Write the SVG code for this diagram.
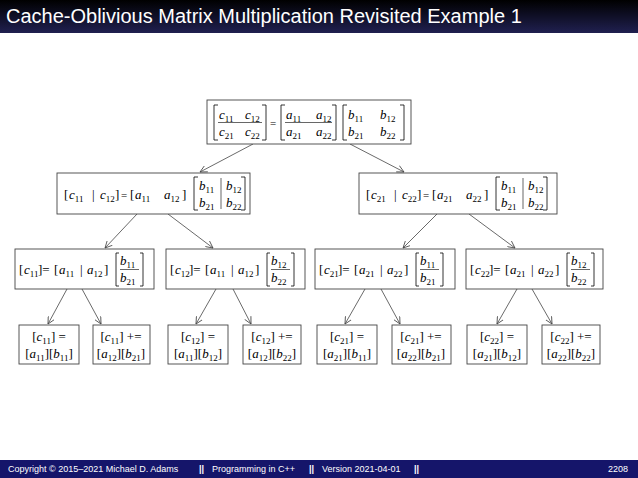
<svg xmlns="http://www.w3.org/2000/svg" width="638" height="478" viewBox="0 0 638 478">
<style>
text{font-family:"Liberation Serif","DejaVu Serif",serif;font-size:13px;fill:#000}
.i{font-style:italic}
.s{font-size:9px;font-style:normal}
.b{fill:none;stroke:#000;stroke-width:0.8}
.box{fill:#fff;stroke:#444;stroke-width:0.9}
.c line{stroke:#444;stroke-width:0.8;marker-end:url(#ah)}
.ft{font-family:"Liberation Sans",Arial,sans-serif;font-size:9px;fill:#fff}
</style>
<defs>
<marker id="ah" markerWidth="8" markerHeight="8" refX="7" refY="4" orient="auto" markerUnits="userSpaceOnUse"><path d="M0,0.5 L7,4 L0,7.5" fill="none" stroke="#444" stroke-width="0.8"/></marker>
<linearGradient id="tg" x1="0" y1="0" x2="0" y2="1"><stop offset="0" stop-color="#000"/><stop offset="1" stop-color="#202050"/></linearGradient>
</defs>
<rect width="638" height="478" fill="#fff"/>
<rect width="638" height="33" fill="url(#tg)"/>
<text x="6" y="23" style="font-family:'Liberation Sans',Arial,sans-serif;font-size:20px;fill:#fff">Cache-Oblivious Matrix Multiplication Revisited Example 1</text>
<rect y="460" width="638" height="18" fill="#15156a"/>
<text class="ft" x="8" y="472">Copyright © 2015–2021 Michael D. Adams</text>
<text class="ft" x="199" y="472" style="font-weight:bold">||</text>
<text class="ft" x="212" y="472">Programming in C++</text>
<text class="ft" x="309" y="472" style="font-weight:bold">||</text>
<text class="ft" x="322" y="472">Version 2021-04-01</text>
<text class="ft" x="414" y="472" style="font-weight:bold">||</text>
<text class="ft" x="608" y="472">2208</text>

<g class="c">
<line x1="253" y1="144" x2="200" y2="172"/>
<line x1="350" y1="144" x2="404" y2="172"/>
<line x1="137" y1="214" x2="105" y2="248"/>
<line x1="168" y1="214" x2="213" y2="248"/>
<line x1="437" y1="214" x2="403" y2="248"/>
<line x1="469" y1="214" x2="515" y2="248"/>
<line x1="67" y1="289" x2="48" y2="324"/>
<line x1="82" y1="289" x2="101" y2="324"/>
<line x1="216" y1="289" x2="196" y2="324"/>
<line x1="233" y1="289" x2="251" y2="324"/>
<line x1="365" y1="289" x2="345" y2="324"/>
<line x1="381" y1="289" x2="400" y2="324"/>
<line x1="517" y1="289" x2="497" y2="324"/>
<line x1="532" y1="289" x2="552" y2="324"/>
</g>

<g id="root">
<rect class="box" x="207" y="100" width="204" height="44"/>
<path class="b" d="M218,105h-4v35h4M262,105h4v35h-4M285,105h-4v35h4M332,105h4v35h-4M347,105h-4v35h4M400,105h4v35h-4"/>
<line x1="218" y1="122.5" x2="262" y2="122.5" stroke="#000" stroke-width="0.6"/>
<line x1="285" y1="122.5" x2="332" y2="122.5" stroke="#000" stroke-width="0.6"/>
<text class="i" x="219" y="119">c<tspan class="s" dy="3">11</tspan></text>
<text class="i" x="245" y="119">c<tspan class="s" dy="3">12</tspan></text>
<text class="i" x="219" y="136">c<tspan class="s" dy="3">21</tspan></text>
<text class="i" x="245" y="136">c<tspan class="s" dy="3">22</tspan></text>
<text x="270" y="127" style="font-size:11px">=</text>
<text class="i" x="286" y="119">a<tspan class="s" dy="3">11</tspan></text>
<text class="i" x="316" y="119">a<tspan class="s" dy="3">12</tspan></text>
<text class="i" x="286" y="136">a<tspan class="s" dy="3">21</tspan></text>
<text class="i" x="316" y="136">a<tspan class="s" dy="3">22</tspan></text>
<text class="i" x="348" y="119">b<tspan class="s" dy="3">11</tspan></text>
<text class="i" x="380" y="119">b<tspan class="s" dy="3">12</tspan></text>
<text class="i" x="348" y="136">b<tspan class="s" dy="3">21</tspan></text>
<text class="i" x="380" y="136">b<tspan class="s" dy="3">22</tspan></text>
</g>

<g id="n2a">
<rect class="box" x="57" y="173" width="193" height="41"/>
<text x="64" y="199">[</text><text class="i" x="69" y="199">c<tspan class="s" dy="3">11</tspan></text><text x="92" y="199">|</text><text class="i" x="100" y="199">c<tspan class="s" dy="3">12</tspan></text><text x="115" y="199">]</text>
<text x="121" y="199" style="font-size:11px">=</text>
<text x="130" y="199">[</text><text class="i" x="135" y="199">a<tspan class="s" dy="3">11</tspan></text><text class="i" x="164" y="199">a<tspan class="s" dy="3">12</tspan></text><text x="182" y="199">]</text>
<path class="b" d="M198,177h-4v33h4M241,177h4v33h-4"/>
<line x1="221" y1="178" x2="221" y2="209" stroke="#000" stroke-width="0.6"/>
<text class="i" x="199" y="190">b<tspan class="s" dy="3">11</tspan></text><text class="i" x="226" y="190">b<tspan class="s" dy="3">12</tspan></text>
<text class="i" x="199" y="207">b<tspan class="s" dy="3">21</tspan></text><text class="i" x="226" y="207">b<tspan class="s" dy="3">22</tspan></text>
</g>

<g id="n2b">
<rect class="box" x="359" y="173" width="198" height="41"/>
<text x="366" y="199">[</text><text class="i" x="371" y="199">c<tspan class="s" dy="3">21</tspan></text><text x="394" y="199">|</text><text class="i" x="402" y="199">c<tspan class="s" dy="3">22</tspan></text><text x="417" y="199">]</text>
<text x="423" y="199" style="font-size:11px">=</text>
<text x="432" y="199">[</text><text class="i" x="437" y="199">a<tspan class="s" dy="3">21</tspan></text><text class="i" x="466" y="199">a<tspan class="s" dy="3">22</tspan></text><text x="484" y="199">]</text>
<path class="b" d="M500,177h-4v33h4M543,177h4v33h-4"/>
<line x1="523" y1="178" x2="523" y2="209" stroke="#000" stroke-width="0.6"/>
<text class="i" x="501" y="190">b<tspan class="s" dy="3">11</tspan></text><text class="i" x="528" y="190">b<tspan class="s" dy="3">12</tspan></text>
<text class="i" x="501" y="207">b<tspan class="s" dy="3">21</tspan></text><text class="i" x="528" y="207">b<tspan class="s" dy="3">22</tspan></text>
</g>

<g id="n3a">
<rect class="box" x="15" y="249" width="139" height="40"/>
<text x="19" y="274">[</text><text class="i" x="24" y="274">c<tspan class="s" dy="3">11</tspan></text><text x="38" y="274">]=</text>
<text x="54" y="274">[</text><text class="i" x="59" y="274">a<tspan class="s" dy="3">11</tspan></text><text x="80" y="274">|</text><text class="i" x="87" y="274">a<tspan class="s" dy="3">12</tspan></text><text x="104" y="274">]</text>
<path class="b" d="M119,253h-3v33h3M140,253h3v33h-3"/>
<line x1="120" y1="269.5" x2="139" y2="269.5" stroke="#000" stroke-width="0.6"/>
<text class="i" x="120" y="265">b<tspan class="s" dy="3">11</tspan></text><text class="i" x="120" y="282">b<tspan class="s" dy="3">21</tspan></text>
</g>
<g id="n3b">
<rect class="box" x="166" y="249" width="139" height="40"/>
<text x="170" y="274">[</text><text class="i" x="175" y="274">c<tspan class="s" dy="3">12</tspan></text><text x="189" y="274">]=</text>
<text x="205" y="274">[</text><text class="i" x="210" y="274">a<tspan class="s" dy="3">11</tspan></text><text x="231" y="274">|</text><text class="i" x="238" y="274">a<tspan class="s" dy="3">12</tspan></text><text x="255" y="274">]</text>
<path class="b" d="M270,253h-3v33h3M291,253h3v33h-3"/>
<line x1="271" y1="269.5" x2="290" y2="269.5" stroke="#000" stroke-width="0.6"/>
<text class="i" x="271" y="265">b<tspan class="s" dy="3">12</tspan></text><text class="i" x="271" y="282">b<tspan class="s" dy="3">22</tspan></text>
</g>
<g id="n3c">
<rect class="box" x="315" y="249" width="140" height="40"/>
<text x="319" y="274">[</text><text class="i" x="324" y="274">c<tspan class="s" dy="3">21</tspan></text><text x="338" y="274">]=</text>
<text x="354" y="274">[</text><text class="i" x="359" y="274">a<tspan class="s" dy="3">21</tspan></text><text x="380" y="274">|</text><text class="i" x="387" y="274">a<tspan class="s" dy="3">22</tspan></text><text x="404" y="274">]</text>
<path class="b" d="M419,253h-3v33h3M440,253h3v33h-3"/>
<line x1="420" y1="269.5" x2="439" y2="269.5" stroke="#000" stroke-width="0.6"/>
<text class="i" x="420" y="265">b<tspan class="s" dy="3">11</tspan></text><text class="i" x="420" y="282">b<tspan class="s" dy="3">21</tspan></text>
</g>
<g id="n3d">
<rect class="box" x="466" y="249" width="137" height="40"/>
<text x="470" y="274">[</text><text class="i" x="475" y="274">c<tspan class="s" dy="3">22</tspan></text><text x="489" y="274">]=</text>
<text x="505" y="274">[</text><text class="i" x="510" y="274">a<tspan class="s" dy="3">21</tspan></text><text x="531" y="274">|</text><text class="i" x="538" y="274">a<tspan class="s" dy="3">22</tspan></text><text x="555" y="274">]</text>
<path class="b" d="M570,253h-3v33h3M591,253h3v33h-3"/>
<line x1="571" y1="269.5" x2="590" y2="269.5" stroke="#000" stroke-width="0.6"/>
<text class="i" x="571" y="265">b<tspan class="s" dy="3">12</tspan></text><text class="i" x="571" y="282">b<tspan class="s" dy="3">22</tspan></text>
</g>

<g id="l1"><rect class="box" x="19" y="325" width="60" height="39"/>
<text x="49" y="341" text-anchor="middle">[<tspan class="i">c</tspan><tspan class="s" dy="3">11</tspan><tspan dy="-3">] =</tspan></text>
<text x="49" y="358" text-anchor="middle">[<tspan class="i">a</tspan><tspan class="s" dy="3">11</tspan><tspan dy="-3">][</tspan><tspan class="i">b</tspan><tspan class="s" dy="3">11</tspan><tspan dy="-3">]</tspan></text></g>
<g id="l2"><rect class="box" x="93" y="325" width="57" height="39"/>
<text x="121" y="341" text-anchor="middle">[<tspan class="i">c</tspan><tspan class="s" dy="3">11</tspan><tspan dy="-3">] +=</tspan></text>
<text x="121" y="358" text-anchor="middle">[<tspan class="i">a</tspan><tspan class="s" dy="3">12</tspan><tspan dy="-3">][</tspan><tspan class="i">b</tspan><tspan class="s" dy="3">21</tspan><tspan dy="-3">]</tspan></text></g>
<g id="l3"><rect class="box" x="168" y="325" width="60" height="39"/>
<text x="198" y="341" text-anchor="middle">[<tspan class="i">c</tspan><tspan class="s" dy="3">12</tspan><tspan dy="-3">] =</tspan></text>
<text x="198" y="358" text-anchor="middle">[<tspan class="i">a</tspan><tspan class="s" dy="3">11</tspan><tspan dy="-3">][</tspan><tspan class="i">b</tspan><tspan class="s" dy="3">12</tspan><tspan dy="-3">]</tspan></text></g>
<g id="l4"><rect class="box" x="243" y="325" width="58" height="39"/>
<text x="272" y="341" text-anchor="middle">[<tspan class="i">c</tspan><tspan class="s" dy="3">12</tspan><tspan dy="-3">] +=</tspan></text>
<text x="272" y="358" text-anchor="middle">[<tspan class="i">a</tspan><tspan class="s" dy="3">12</tspan><tspan dy="-3">][</tspan><tspan class="i">b</tspan><tspan class="s" dy="3">22</tspan><tspan dy="-3">]</tspan></text></g>
<g id="l5"><rect class="box" x="317" y="325" width="60" height="39"/>
<text x="347" y="341" text-anchor="middle">[<tspan class="i">c</tspan><tspan class="s" dy="3">21</tspan><tspan dy="-3">] =</tspan></text>
<text x="347" y="358" text-anchor="middle">[<tspan class="i">a</tspan><tspan class="s" dy="3">21</tspan><tspan dy="-3">][</tspan><tspan class="i">b</tspan><tspan class="s" dy="3">11</tspan><tspan dy="-3">]</tspan></text></g>
<g id="l6"><rect class="box" x="392" y="325" width="59" height="39"/>
<text x="421" y="341" text-anchor="middle">[<tspan class="i">c</tspan><tspan class="s" dy="3">21</tspan><tspan dy="-3">] +=</tspan></text>
<text x="421" y="358" text-anchor="middle">[<tspan class="i">a</tspan><tspan class="s" dy="3">22</tspan><tspan dy="-3">][</tspan><tspan class="i">b</tspan><tspan class="s" dy="3">21</tspan><tspan dy="-3">]</tspan></text></g>
<g id="l7"><rect class="box" x="467" y="325" width="60" height="39"/>
<text x="497" y="341" text-anchor="middle">[<tspan class="i">c</tspan><tspan class="s" dy="3">22</tspan><tspan dy="-3">] =</tspan></text>
<text x="497" y="358" text-anchor="middle">[<tspan class="i">a</tspan><tspan class="s" dy="3">21</tspan><tspan dy="-3">][</tspan><tspan class="i">b</tspan><tspan class="s" dy="3">12</tspan><tspan dy="-3">]</tspan></text></g>
<g id="l8"><rect class="box" x="542" y="325" width="58" height="39"/>
<text x="571" y="341" text-anchor="middle">[<tspan class="i">c</tspan><tspan class="s" dy="3">22</tspan><tspan dy="-3">] +=</tspan></text>
<text x="571" y="358" text-anchor="middle">[<tspan class="i">a</tspan><tspan class="s" dy="3">22</tspan><tspan dy="-3">][</tspan><tspan class="i">b</tspan><tspan class="s" dy="3">22</tspan><tspan dy="-3">]</tspan></text></g>
</svg>
